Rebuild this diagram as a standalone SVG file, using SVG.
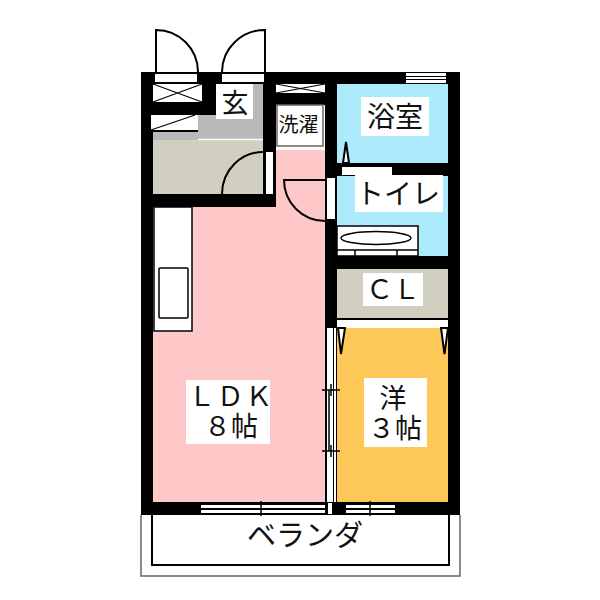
<svg xmlns="http://www.w3.org/2000/svg" width="600" height="600" viewBox="0 0 600 600">
<style>
text{font-family:"Noto Sans CJK JP","Liberation Sans",sans-serif;fill:#111;text-anchor:middle;font-size:27px}
.w{fill:#000}.f{fill:#fff}.l{fill:none;stroke:#000;stroke-width:1.5}
.b{fill:#fff;stroke:#000;stroke-width:1.5}.t{stroke:#000;stroke-width:1.2;fill:none}
.tri{fill:#fff;stroke:#000;stroke-width:2}
.arc{fill:none;stroke:#000;stroke-width:2}
</style>
<rect width="600" height="600" fill="#fff"/>
<g id="walls">
<rect class="w" x="141" y="72" width="319" height="443"/>
</g>
<g id="floors">
<rect x="153" y="207" width="172" height="295" fill="#ffc8c8"/>
<rect x="276" y="150" width="49" height="57" fill="#ffc8c8"/>
<rect x="153" y="132" width="110" height="62" fill="#d0cfc0"/>
<rect x="153" y="132" width="45" height="8" fill="#b9b9b9"/>
<rect x="198" y="115" width="65" height="24" fill="#b9b9b9"/>
<rect x="216" y="84" width="47" height="31" fill="#b9b9b9"/>
<rect x="337" y="84" width="111" height="79" fill="#aceafc"/>
<rect x="337" y="176" width="111" height="80" fill="#aceafc"/>
<rect x="337" y="269" width="111" height="49" fill="#d0cfc0"/>
<rect x="337" y="328" width="111" height="174" fill="#fdc858"/>
</g>
<g id="fixtures">
<rect class="f" x="154" y="207" width="38" height="124" stroke="#000" stroke-width="1.500"/>
<rect class="l" x="159" y="268" width="29" height="50" rx="1"/>
<line x1="198" y1="139.500" x2="263" y2="139.500" stroke="#fff" stroke-width="1.500"/>
<rect class="f" x="155" y="74" width="42" height="8"/>
<rect class="f" x="222" y="74" width="42" height="8"/>
<rect class="f" x="153" y="84" width="49" height="18"/>
<path class="t" d="M153 84L202 102M202 84L153 102"/>
<rect class="f" x="151" y="115" width="47" height="15"/>
<path class="t" d="M151 130L195 115"/>
<rect class="f" x="266" y="152" width="7" height="42"/>
<rect class="f" x="276" y="84" width="49" height="9"/>
<path class="t" d="M276 84L325 93M325 84L276 93"/>
<rect class="f" x="276" y="105" width="49" height="45"/>
<rect x="277" y="105" width="46" height="41" fill="#fff" stroke="#666" stroke-width="1.500"/>
<rect class="f" x="327" y="178" width="8" height="41"/>
<rect class="f" x="406" y="73" width="40" height="10"/>
<path stroke="#000" stroke-width="1.200" d="M406 76.500H446M406 79.500H446"/>
<rect class="f" x="342" y="167" width="50" height="8"/>
<path class="tri" d="M343 163L346 142L349 163Z"/>
<rect class="b" x="337" y="226" width="81" height="30"/>
<ellipse class="b" cx="376" cy="238" rx="35" ry="6.500"/>
<path class="l" d="M337 250H418M355 250V256M397 250V256"/>
<rect class="f" x="337" y="320" width="111" height="8"/>
<path class="tri" d="M338 328L341 354L345 328Z"/>
<path class="tri" d="M441 328L444.500 354L448 328Z"/>
<rect class="f" x="327" y="328" width="6" height="174"/>
<rect class="f" x="334" y="328" width="2" height="174"/>
<line class="l" x1="329" y1="390" x2="329" y2="451"/>
<path class="l" d="M322 390H340M322 451H340M326 384V396M331 384V396M326 445V457M331 445V457"/>
<rect class="f" x="201" y="505" width="124" height="3"/>
<rect class="f" x="201" y="510" width="124" height="3"/>
<rect class="f" x="346" y="505" width="49" height="3"/>
<rect class="f" x="346" y="510" width="49" height="3"/>
<rect class="f" x="328" y="503" width="4" height="11"/>
<path class="l" d="M261 501V516M370 501V516"/>
</g>
<g id="doors">
<path class="arc" d="M198 72A42 42 0 0 0 156 30V72"/>
<path class="arc" d="M222 72A43 42 0 0 1 265 30V72"/>
<path class="arc" d="M222 194A41 42 0 0 1 263 152"/>
<path class="arc" d="M325 221A41 41 0 0 1 284 180H325"/>
</g>
<g id="veranda">
<path d="M152 515V565H449V515" fill="none" stroke="#000" stroke-width="2"/>
<path d="M141 515V576H460V515" fill="none" stroke="#666" stroke-width="1.500"/>
</g>
<g id="labels">
<rect class="f" x="216" y="84" width="37" height="35"/>
<text x="235" y="113">玄</text>
<text x="298.500" y="132" style="font-size:20px">洗濯</text>
<rect class="f" x="361" y="97" width="68" height="39"/>
<text x="395" y="127" style="font-size:28px">浴室</text>
<rect class="f" x="355" y="175" width="88" height="37"/>
<text x="398" y="204" style="font-size:28px">トイレ</text>
<rect class="f" x="363" y="273" width="60" height="33"/>
<text x="393" y="299">ＣＬ</text>
<rect class="f" x="364" y="378" width="63" height="69"/>
<text x="393" y="408">洋</text>
<text x="395" y="438">３帖</text>
<rect class="f" x="186" y="380" width="84" height="64"/>
<text x="231" y="406" style="letter-spacing:1.500px">ＬＤＫ</text>
<text x="231" y="436">８帖</text>
<text x="305" y="546" style="font-size:29px">ベランダ</text>
</g>
</svg>
